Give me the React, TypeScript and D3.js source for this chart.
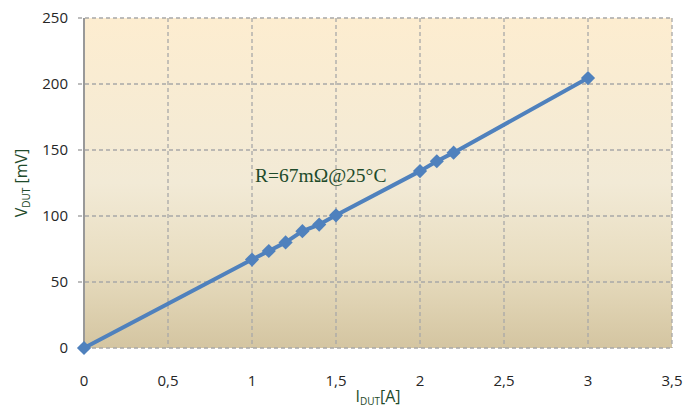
import React from "react";
import * as d3 from "d3";

const currents = [0, 1, 1.1, 1.2, 1.3, 1.4, 1.5, 2, 2.1, 2.2, 3];
const voltages = [0, 67, 73.5, 80, 88.5, 93.5, 100.5, 134, 141.5, 148, 204.5];
const xTicks = [0, 0.5, 1, 1.5, 2, 2.5, 3, 3.5];
const yTicks = [0, 50, 100, 150, 200, 250];
const annotation = "R=67mΩ@25°C";

export default function App() {
  const W = 687, H = 411;
  const left = 84, right = 672, top = 18, bottom = 348;
  const x = d3.scaleLinear().domain([0, 3.5]).range([left, right]);
  const y = d3.scaleLinear().domain([0, 250]).range([bottom, top]);
  const pts = currents.map((c, i) => [c, voltages[i]] as [number, number]);
  const line = d3.line<[number, number]>().x(d => x(d[0])).y(d => y(d[1]));
  const fmt = (v: number) => String(v).replace(".", ",");
  const marker = d3.symbol().type(d3.symbolSquare).size(100)();
  const font = "'Open Sans', 'Liberation Sans', sans-serif";
  return (
    <svg width={W} height={H} style={{ position: "absolute", left: 0, top: 0 }}>
      <defs>
        <linearGradient id="bg" x1="0" y1="0" x2="0" y2="1">
          <stop offset="0" stopColor="#FDEDD0" />
          <stop offset="0.5" stopColor="#F2EAD6" />
          <stop offset="0.75" stopColor="#E8DDC0" />
          <stop offset="1" stopColor="#D4C5A1" />
        </linearGradient>
      </defs>
      <rect x={left} y={top} width={right - left} height={bottom - top} fill="url(#bg)" />
      {yTicks.map(t => (
        <line key={"gy" + t} x1={left - 6} x2={right} y1={y(t)} y2={y(t)} stroke="#A8A8A8" strokeWidth={1.3} strokeDasharray="4,3" />
      ))}
      {xTicks.filter(t => t > 0).map(t => (
        <line key={"gx" + t} x1={x(t)} x2={x(t)} y1={top} y2={bottom} stroke="#A8A8A8" strokeWidth={1.3} strokeDasharray="4,3" />
      ))}
      <line x1={left} x2={left} y1={top} y2={bottom} stroke="#999" strokeWidth={2} />
      {yTicks.map(t => (
        <text key={"ty" + t} x={68} y={y(t)} dy="0.35em" textAnchor="end" fontFamily={font} fontSize={15} fill="#262626">{t}</text>
      ))}
      {xTicks.map(t => (
        <text key={"tx" + t} x={x(t)} y={386} textAnchor="middle" fontFamily={font} fontSize={15} fill="#262626">{fmt(t)}</text>
      ))}
      <path d={line(pts) || ""} fill="none" stroke="#4F81BD" strokeWidth={4} strokeLinejoin="round" />
      {pts.map((p, i) => (
        <path key={"m" + i} d={marker || ""} transform={`translate(${x(p[0])},${y(p[1])}) rotate(45)`} fill="#4F81BD" />
      ))}
      <text x={255} y={182} fontFamily="'Liberation Serif', 'Times New Roman', serif" fontSize={19.5} fill="#1E4A2A">{annotation}</text>
      <text transform={`translate(27,${(top + bottom) / 2}) rotate(-90)`} textAnchor="middle" fontFamily={font} fontSize={16} fill="#1E4A2A">
        V<tspan fontSize={10} dy={3}>DUT</tspan><tspan dy={-3}> [mV]</tspan>
      </text>
      <text x={378} y={402} textAnchor="middle" fontFamily={font} fontSize={16} fill="#1E4A2A">
        I<tspan fontSize={10} dy={3}>DUT</tspan><tspan dy={-3}>[A]</tspan>
      </text>
    </svg>
  );
}
